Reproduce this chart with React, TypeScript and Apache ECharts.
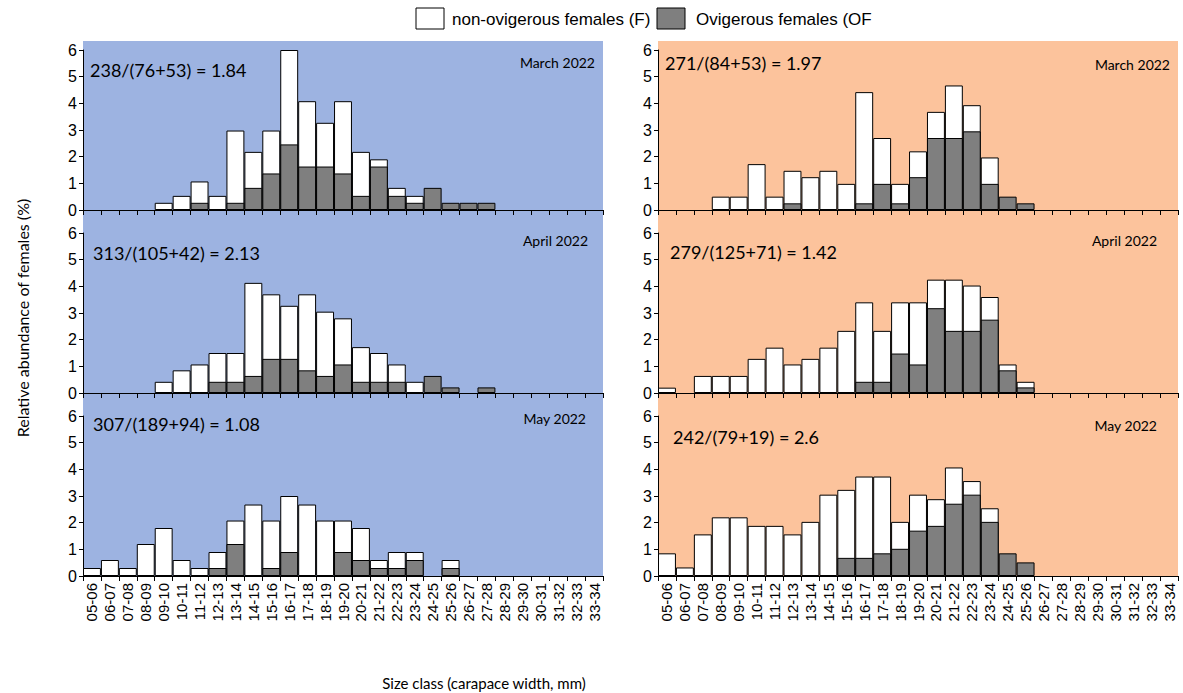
import React, { useEffect, useRef } from "react";
import * as echarts from "echarts";

const _ = null;

const categories = [
  "05-06", "06-07", "07-08", "08-09", "09-10", "10-11", "11-12", "12-13", "13-14", "14-15",
  "15-16", "16-17", "17-18", "18-19", "19-20", "20-21", "21-22", "22-23", "23-24", "24-25",
  "25-26", "26-27", "27-28", "28-29", "29-30", "30-31", "31-32", "32-33", "33-34",
];
const yTicks = [0, 6, 1]; // min, max, interval

// Left column (blue)
const marchL_F = [_, _, _, _, 0.27, 0.53, 1.07, 0.53, 2.98, 2.18, 2.98, 6.0, 4.08, 3.27, 4.08, 2.18, 1.9, 0.83, 0.53, _, _, _, _, _, _, _, _, _, _];
const marchL_OF = [_, _, _, _, _, _, 0.27, _, 0.27, 0.83, 1.37, 2.46, 1.63, 1.63, 1.37, 0.53, 1.63, 0.53, 0.27, 0.83, 0.27, 0.27, 0.27, _, _, _, _, _, _];
const aprilL_F = [_, _, _, _, 0.42, 0.85, 1.07, 1.5, 1.5, 4.13, 3.7, 3.27, 3.7, 3.05, 2.8, 1.72, 1.5, 1.07, 0.42, _, _, _, _, _, _, _, _, _, _];
const aprilL_OF = [_, _, _, _, _, _, _, 0.42, 0.42, 0.64, 1.28, 1.28, 0.85, 0.64, 1.07, 0.42, 0.42, 0.42, _, 0.64, 0.21, _, 0.21, _, _, _, _, _, _];
const mayL_F = [0.3, 0.6, 0.3, 1.2, 1.8, 0.6, 0.3, 0.9, 2.08, 2.68, 2.08, 3.0, 2.68, 2.08, 2.08, 1.8, 0.6, 0.9, 0.9, _, 0.6, _, _, _, _, _, _, _, _];
const mayL_OF = [_, _, _, _, _, _, _, 0.3, 1.2, _, 0.3, 0.9, _, _, 0.9, 0.6, 0.3, 0.3, 0.6, _, 0.3, _, _, _, _, _, _, _, _];

// Right column (orange)
const marchR_F = [_, _, _, 0.5, 0.5, 1.72, 0.5, 1.47, 1.23, 1.47, 0.98, 4.42, 2.7, 0.98, 2.2, 3.68, 4.67, 3.93, 1.97, _, _, _, _, _, _, _, _, _, _];
const marchR_OF = [_, _, _, _, _, _, _, 0.25, _, _, _, 0.25, 0.98, 0.25, 1.23, 2.7, 2.7, 2.95, 0.98, 0.5, 0.25, _, _, _, _, _, _, _, _];
const aprilR_F = [0.2, _, 0.64, 0.64, 0.64, 1.28, 1.7, 1.07, 1.28, 1.7, 2.33, 3.4, 2.33, 3.4, 3.4, 4.25, 4.25, 4.03, 3.6, 1.07, 0.42, _, _, _, _, _, _, _, _];
const aprilR_OF = [_, _, _, _, _, _, _, _, _, _, _, 0.42, 0.42, 1.48, 1.07, 3.18, 2.33, 2.33, 2.75, 0.85, 0.21, _, _, _, _, _, _, _, _];
const mayR_F = [0.85, 0.32, 1.56, 2.2, 2.2, 1.88, 1.88, 1.56, 2.03, 3.05, 3.23, 3.73, 3.73, 2.03, 3.05, 2.88, 4.07, 3.56, 2.54, _, _, _, _, _, _, _, _, _, _];
const mayR_OF = [_, _, _, _, _, _, _, _, _, _, 0.68, 0.68, 0.85, 1.02, 1.7, 1.88, 2.71, 3.05, 2.03, 0.85, 0.51, _, _, _, _, _, _, _, _];

const panelData = [
  { F: marchL_F, OF: marchL_OF },
  { F: aprilL_F, OF: aprilL_OF },
  { F: mayL_F, OF: mayL_OF },
  { F: marchR_F, OF: marchR_OF },
  { F: aprilR_F, OF: aprilR_OF },
  { F: mayR_F, OF: mayR_OF },
];

const ratioTexts = [
  "238/(76+53) = 1.84",
  "313/(105+42) = 2.13",
  "307/(189+94) = 1.08",
  "271/(84+53) = 1.97",
  "279/(125+71) = 1.42",
  "242/(79+19) = 2.6",
];
const monthTexts = ["March 2022", "April 2022", "May 2022", "March 2022", "April 2022", "May 2022"];
const legendNames = ["non-ovigerous females (F)", "Ovigerous females (OF"];
const yTitle = "Relative abundance of females (%)";
const xTitle = "Size class (carapace width, mm)";

// layout
const colLeft = [83, 658];
const colWidth = 520;
const rowTop = [50, 233, 416];
const rowHeight = 160;
const ratioPos = [
  [90, 70], [93, 253], [93, 424],
  [665, 63], [670, 252], [673, 437],
];
const monthPos = [
  [595, 62], [588, 240], [586, 418],
  [1170, 64], [1157, 240], [1157, 425],
];
const bgColors = ["#9DB3E1", "#FCC39C"];

export default function App() {
  const ref = useRef<HTMLDivElement>(null);
  useEffect(() => {
    if (!ref.current) return;
    const chart = echarts.init(ref.current, undefined, { renderer: "svg" });
    const grids: any[] = [];
    const xAxes: any[] = [];
    const yAxes: any[] = [];
    const series: any[] = [];
    for (let i = 0; i < 6; i++) {
      const col = Math.floor(i / 3);
      const row = i % 3;
      grids.push({ left: colLeft[col], top: rowTop[row], width: colWidth, height: rowHeight });
      xAxes.push({
        type: "category",
        gridIndex: i,
        data: categories,
        boundaryGap: true,
        axisLine: { show: true, lineStyle: { color: "#000", width: 1 } },
        axisTick: { show: true, length: 5, inside: false, alignWithLabel: false, interval: 0, lineStyle: { color: "#000" } },
        axisLabel: {
          show: row === 2,
          interval: 0,
          rotate: 90,
          margin: 7,
          color: "#000",
          fontFamily: "Liberation Sans",
          fontSize: 15,
        },
        splitLine: { show: false },
      });
      yAxes.push({
        type: "value",
        gridIndex: i,
        min: yTicks[0],
        max: yTicks[1],
        interval: yTicks[2],
        axisLine: { show: true, lineStyle: { color: "#000", width: 1 } },
        axisTick: { show: true, length: 4, lineStyle: { color: "#000" } },
        axisLabel: { color: "#000", fontFamily: "Liberation Sans", fontSize: 16, margin: 6 },
        splitLine: { show: false },
      });
      series.push({
        type: "bar",
        name: legendNames[0],
        xAxisIndex: i,
        yAxisIndex: i,
        data: panelData[i].F,
        barGap: "-100%",
        barCategoryGap: 0,
        itemStyle: { color: "#FFFFFF", borderColor: "#000", borderWidth: 1 },
        z: 2,
      });
      series.push({
        type: "bar",
        name: legendNames[1],
        xAxisIndex: i,
        yAxisIndex: i,
        data: panelData[i].OF,
        barGap: "-100%",
        barCategoryGap: 0,
        itemStyle: { color: "#7F7F7F", borderColor: "#000", borderWidth: 1 },
        z: 3,
      });
    }

    const graphics: any[] = [];
    for (let c = 0; c < 2; c++) {
      graphics.push({
        type: "rect",
        z: -10,
        silent: true,
        shape: { x: colLeft[c], y: 41, width: colWidth, height: 576 - 41 },
        style: { fill: bgColors[c] },
      });
    }
    for (let i = 0; i < 6; i++) {
      graphics.push({
        type: "text",
        z: 10,
        style: {
          text: ratioTexts[i],
          x: ratioPos[i][0],
          y: ratioPos[i][1],
          font: "18px Lato",
          fill: "#000",
          textAlign: "left",
          textVerticalAlign: "middle",
        },
      });
      graphics.push({
        type: "text",
        z: 10,
        style: {
          text: monthTexts[i],
          x: monthPos[i][0],
          y: monthPos[i][1],
          font: "14px Lato",
          fill: "#000",
          textAlign: "right",
          textVerticalAlign: "middle",
        },
      });
    }
    // legend
    graphics.push({
      type: "rect",
      shape: { x: 416, y: 8, width: 28, height: 21 },
      style: { fill: "#FFFFFF", stroke: "#000", lineWidth: 1 },
    });
    graphics.push({
      type: "text",
      style: { text: legendNames[0], x: 452, y: 19, font: "17px Liberation Sans", fill: "#000", textAlign: "left", textVerticalAlign: "middle" },
    });
    graphics.push({
      type: "rect",
      shape: { x: 657, y: 8, width: 28, height: 21 },
      style: { fill: "#7F7F7F", stroke: "#000", lineWidth: 1 },
    });
    graphics.push({
      type: "text",
      style: { text: legendNames[1], x: 696, y: 19, font: "17px Liberation Sans", fill: "#000", textAlign: "left", textVerticalAlign: "middle" },
    });
    // axis titles
    graphics.push({
      type: "text",
      x: 22,
      y: 318,
      rotation: Math.PI / 2,
      style: { text: yTitle, x: 0, y: 0, font: "16px Lato", fill: "#000", textAlign: "center", textVerticalAlign: "middle" },
    });
    graphics.push({
      type: "text",
      style: { text: xTitle, x: 484, y: 683, font: "15px Lato", fill: "#000", textAlign: "center", textVerticalAlign: "middle" },
    });

    chart.setOption({
      animation: false,
      backgroundColor: "#FFFFFF",
      grid: grids,
      xAxis: xAxes,
      yAxis: yAxes,
      series,
      graphic: { elements: graphics },
    });
    return () => chart.dispose();
  }, []);
  return (
    <div
      ref={ref}
      style={{ position: "fixed", left: 0, top: 0, width: 1183, height: 693, background: "#fff" }}
    />
  );
}
